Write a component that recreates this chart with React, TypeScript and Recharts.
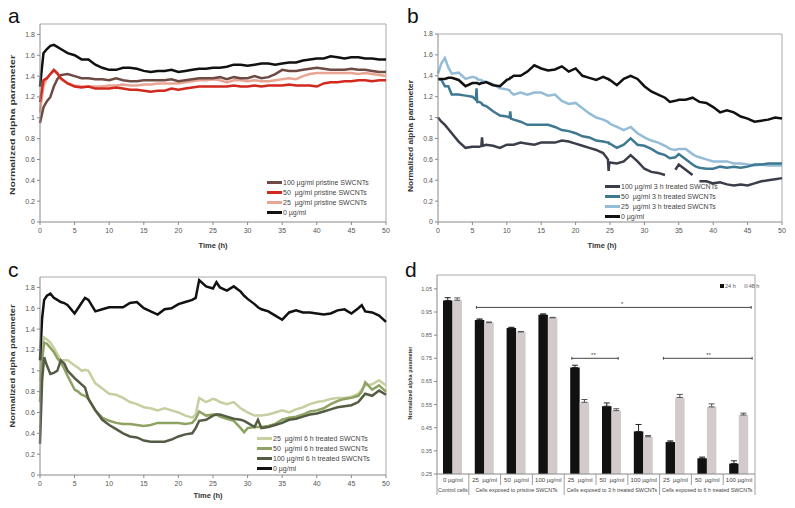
import React from 'react';
import { LineChart, Line, XAxis, YAxis, ReferenceLine, ReferenceDot, Legend, BarChart, Bar, ErrorBar } from 'recharts';

const FONT = '"Liberation Sans", Arial, sans-serif';

// ---------- Panel a ----------
const aTime = [0,0.5,1,1.5,2,2.5,3,4,5,6,7,8,9,10,11,12,13,14,15,16,17,18,19,20,21,22,23,24,25,26,27,28,29,30,31,32,33,34,35,36,37,38,39,40,41,42,43,44,45,46,47,48,49,50];
const a0 = [1.30,1.62,1.66,1.69,1.70,1.68,1.66, 1.62,1.60,1.56,1.56,1.51,1.48,1.46, 1.46,1.48,1.48,1.47,1.45,1.44,1.45,1.45,1.46,1.44, 1.45,1.46,1.47,1.47,1.48,1.48,1.49,1.51,1.51,1.50, 1.51,1.52,1.52,1.51,1.52,1.53,1.53,1.55,1.56,1.57, 1.57,1.59,1.58,1.57,1.58,1.58,1.57,1.57,1.56,1.56];
const a100 = [0.95,1.10,1.16,1.20,1.30,1.37,1.41, 1.42,1.40,1.38,1.38,1.37,1.37,1.36, 1.38,1.36,1.35,1.35,1.36,1.36,1.36,1.36,1.37,1.35, 1.36,1.37,1.38,1.38,1.38,1.39,1.37,1.39,1.38,1.38, 1.40,1.38,1.39,1.42,1.46,1.45,1.45,1.46,1.47,1.48, 1.47,1.46,1.46,1.46,1.47,1.46,1.46,1.45,1.44,1.44];
const a50 = [1.15,1.36,1.38,1.42,1.46,1.43,1.38, 1.33,1.30,1.29,1.30,1.28,1.28,1.28, 1.29,1.28,1.27,1.27,1.26,1.25,1.26,1.26,1.28,1.27, 1.28,1.29,1.30,1.30,1.30,1.30,1.30,1.31,1.30,1.30, 1.31,1.30,1.31,1.31,1.31,1.32,1.31,1.31,1.31,1.30, 1.33,1.34,1.34,1.35,1.35,1.36,1.36,1.35,1.36,1.36];
const a25 = [1.05,1.30,1.38,1.42,1.45,1.42,1.37, 1.33,1.31,1.30,1.30,1.30,1.30,1.31, 1.31,1.32,1.31,1.31,1.32,1.32,1.33,1.33,1.33,1.33, 1.34,1.35,1.36,1.36,1.37,1.36,1.34,1.36,1.36,1.35, 1.36,1.35,1.35,1.36,1.37,1.38,1.37,1.40,1.42,1.43, 1.43,1.43,1.43,1.43,1.43,1.42,1.43,1.42,1.41,1.40];
const aNames = ['100 µg/ml pristine SWCNTs', '50  µg/ml pristine SWCNTs', '25  µg/ml pristine SWCNTs', '0 µg/ml'];

// ---------- Panel b ----------
const bTime = [0,0.5,1,1.5,2, 3,4,5, 5.5,5.6,5.7, 6, 6.3,6.4,6.5, 7,8,9,10, 10.4,10.5,10.6, 11,12,13,14,15,16,17,18,19,20,21,22,23,24, 24.7,24.8,24.9, 25,26,27,28,29,30,31,32,33, 33.7, 34.5, 35,36,37, 37.5, 38,39,40,41,42,43,44,45,46,47,48,49,50];
const b0 = [1.37,1.37,1.37,1.38,1.38, 1.36,1.30,1.33, 1.33,1.33,1.33, 1.32, 1.33,1.33,1.33, 1.34,1.31,1.30,1.36, 1.37,1.38,1.38, 1.40,1.40,1.44,1.50,1.47,1.45,1.46,1.49,1.44,1.47,1.40,1.38,1.36,1.39, 1.37,1.37,1.36, 1.36,1.31,1.37,1.40,1.37,1.30,1.25,1.22,1.19, 1.15, 1.16, 1.17,1.17,1.19, 1.17, 1.15,1.14,1.10,1.05,1.07,1.05,1.01,0.99,0.96,0.97,0.98,1.00,0.99];
const b100 = [1.00,0.96,0.93,0.89,0.85, 0.77,0.71,0.72, 0.72,0.72,0.72, 0.72, 0.73,0.81,0.73, 0.74,0.73,0.71,0.74, 0.74,0.74,0.74, 0.74,0.76,0.75,0.74,0.76,0.76,0.76,0.78,0.77,0.75,0.73,0.71,0.69,0.66, 0.60,0.49,0.57, 0.57,0.56,0.58,0.64,0.58,0.51,0.48,0.47,0.45, null, 0.50, 0.55,0.50,0.45, null, 0.39,0.39,0.37,0.38,0.36,0.35,0.36,0.35,0.37,0.39,0.40,0.41,0.42];
const b50 = [1.37,1.36,1.30,1.30,1.22, 1.22,1.21,1.20, 1.17,1.28,1.15, 1.15, 1.14,1.13,1.12, 1.11,1.06,1.02,1.01, 1.00,1.06,0.99, 0.98,0.96,0.93,0.93,0.93,0.93,0.91,0.88,0.87,0.85,0.82,0.81,0.78,0.77, 0.76,0.76,0.75, 0.75,0.71,0.74,0.80,0.74,0.73,0.70,0.66,0.64, 0.61, 0.62, 0.65,0.60,0.55, 0.53, 0.52,0.51,0.51,0.53,0.52,0.53,0.52,0.53,0.55,0.55,0.56,0.56,0.56];
const b25 = [1.42,1.52,1.57,1.48,1.42, 1.43,1.37,1.39, 1.38,1.38,1.37, 1.36, 1.36,1.35,1.35, 1.34,1.32,1.28,1.27, 1.26,1.25,1.24, 1.22,1.24,1.22,1.24,1.24,1.21,1.22,1.16,1.13,1.14,1.09,1.04,1.00,0.98, 0.96,0.95,0.95, 0.94,0.91,0.88,0.91,0.85,0.81,0.78,0.76,0.73, 0.70, 0.69, 0.70,0.70,0.65, 0.63, 0.62,0.60,0.58,0.58,0.58,0.56,0.56,0.55,0.54,0.55,0.54,0.54,0.54];
const bNames = ['100 µg/ml 3 h treated SWCNTs', '50  µg/ml 3 h treated SWCNTs', '25  µg/ml 3 h treated SWCNTs', '0 µg/ml'];

// ---------- Panel c ----------
const cTime = [0,0.3,0.6,1,1.5,2,2.5,3,3.5,4, 5,5.5,6,6.5,7, 8,9,10,11,12,13,14,15,16,17,18,19,20,21,22, 22.5,23,24,25,25.5,26,27,28,29,29.5,30,31,31.5, 32,33,34,35,36,37,38,39,40,41,42,43,44,45,46, 46.5,47,48,49,50];
const c0 = [1.10,1.50,1.68,1.72,1.74,1.70,1.68,1.66,1.65,1.63, 1.55,1.60,1.65,1.70,1.68, 1.57,1.59,1.61,1.61,1.61,1.65,1.66,1.60,1.57,1.54,1.59,1.60,1.64,1.66,1.68, 1.70,1.87,1.81,1.79,1.85,1.80,1.77,1.81,1.76,1.72,1.69,1.64,1.61, 1.59,1.57,1.53,1.49,1.56,1.58,1.56,1.56,1.55,1.54,1.55,1.58,1.59,1.55,1.60, 1.63,1.57,1.56,1.53,1.47];
const c25 = [0.90,1.20,1.32,1.30,1.27,1.22,1.16,1.10,1.10,1.10, 1.05,1.03,1.00,1.01,1.00, 0.88,0.83,0.78,0.77,0.74,0.70,0.68,0.65,0.64,0.62,0.64,0.62,0.60,0.57,0.55, 0.58,0.74,0.70,0.73,0.72,0.70,0.68,0.70,0.64,0.62,0.60,0.57,0.57, 0.57,0.58,0.60,0.62,0.60,0.63,0.65,0.68,0.70,0.71,0.73,0.74,0.74,0.75,0.78, 0.82,0.86,0.87,0.91,0.86];
const c50 = [0.70,1.10,1.27,1.26,1.22,1.18,1.12,1.08,1.02,0.95, 0.82,0.80,0.77,0.76,0.73, 0.62,0.55,0.52,0.50,0.49,0.49,0.48,0.47,0.48,0.50,0.50,0.50,0.50,0.49,0.50, 0.54,0.61,0.57,0.58,0.58,0.56,0.54,0.52,0.45,0.41,0.45,0.46,0.46, 0.46,0.47,0.49,0.53,0.55,0.56,0.58,0.61,0.62,0.64,0.68,0.71,0.73,0.74,0.76, 0.80,0.89,0.82,0.86,0.80];
const c100 = [0.30,0.90,1.13,1.05,0.97,0.98,1.00,1.10,1.07,1.00, 0.93,0.90,0.87,0.84,0.73, 0.62,0.53,0.48,0.44,0.40,0.37,0.36,0.33,0.32,0.32,0.32,0.34,0.37,0.39,0.40, 0.45,0.52,0.53,0.57,0.58,0.58,0.56,0.54,0.53,0.52,0.50,0.46,0.53, 0.45,0.46,0.48,0.50,0.53,0.54,0.56,0.58,0.59,0.61,0.63,0.65,0.66,0.67,0.70, 0.74,0.78,0.76,0.81,0.77];
const cNames = ['25  µg/ml 6 h treated SWCNTs', '50  µg/ml 6 h treated SWCNTs', '100 µg/ml 6 h treated SWCNTs', '0 µg/ml'];

const xTicks = [0,5,10,15,20,25,30,35,40,45,50];
const yTicks18 = [0,0.2,0.4,0.6,0.8,1,1.2,1.4,1.6,1.8];

// ---------- Panel d ----------
const dCatLabels = ['0 µg/ml','25  µg/ml','50  µg/ml','100 µg/ml','25  µg/ml','50  µg/ml','100 µg/ml','25  µg/ml','50  µg/ml','100 µg/ml'];
const dGroupLabels = ['Control cells','Cells exposed to pristine SWCNTs','Cells exposed to 3 h treated SWCNTs','Cells exposed to 6 h treated SWCNTs'];
const dGroupSizes = [1,3,3,3];
const d24 = [1.000,0.916,0.881,0.938,0.710,0.543,0.434,0.388,0.318,0.295];
const d48 = [1.001,0.904,0.864,0.925,0.560,0.524,0.411,0.581,0.540,0.505];
const d24Err = [0.012,0.004,0.003,0.004,0.010,0.014,0.030,0.005,0.005,0.012];
const d48Err = [0.010,0.003,0.002,0.002,0.012,0.008,0.005,0.013,0.013,0.008];
const dTicks = [0.25,0.35,0.45,0.55,0.65,0.75,0.85,0.95,1.05];
const dNames = ['24 h','48 h'];
// significance brackets, in category-index units (0..10)
const sigFrom = [1.24,4.24,7.12];
const sigTo = [9.88,5.70,9.91];
const sigY = [0.97,0.75,0.75];
const sigLabelX = [5.82,4.92,8.54];
const sigLabel = ['*','**','**'];

const aData = aTime.map((t, i) => ({ t, s100: a100[i], s50: a50[i], s25: a25[i], s0: a0[i] }));
const bData = bTime.map((t, i) => ({ t, s100: b100[i], s50: b50[i], s25: b25[i], s0: b0[i] }));
const cData = cTime.map((t, i) => ({ t, s100: c100[i], s50: c50[i], s25: c25[i], s0: c0[i] }));
const dData = dCatLabels.map((lab, i) => ({ x: i + 0.5, lab, v24: d24[i], v48: d48[i], e24: [0, d24Err[i]], e48: [0, d48Err[i]] }));
const dXTicks = dData.map((d) => d.x);

function makeLegend(order: string[]) {
  return (props: any) => {
    const items = [...(props.payload || [])].sort((p: any, q: any) => order.indexOf(p.value) - order.indexOf(q.value));
    return (
      <div style={{ fontFamily: FONT, fontSize: 7, color: '#444' }}>
        {items.map((p: any) => (
          <div key={p.value} style={{ display: 'flex', alignItems: 'center', height: 10, whiteSpace: 'pre' }}>
            <span style={{ display: 'inline-block', width: 15, height: 3, background: p.color, marginRight: 1 }} />
            <span>{p.value}</span>
          </div>
        ))}
      </div>
    );
  };
}

const DLegend = (props: any) => {
  const items = [...(props.payload || [])].sort((p: any, q: any) => dNames.indexOf(p.value) - dNames.indexOf(q.value));
  return (
    <div style={{ display: 'flex', fontFamily: FONT, fontSize: 5.5, color: '#555', whiteSpace: 'pre' }}>
      {items.map((p: any) => (
        <div key={p.value} style={{ display: 'flex', alignItems: 'center', marginRight: 8 }}>
          <span style={{ display: 'inline-block', width: 4, height: 4, background: p.color, marginRight: 1 }} />
          <span>{p.value}</span>
        </div>
      ))}
    </div>
  );
};

type Series = { key: string; name: string; color: string };

function LinePanel(props: {
  left: number; top: number; width: number; height: number; data: any[]; series: Series[];
  yMax: number; margin: any; yWidth: number; xHeight: number; legendPos: [number, number]; names: string[];
}) {
  const { left, top, width, height, data, series, yMax, margin, yWidth, xHeight, legendPos, names } = props;
  const tickStyle = { fontSize: 7, fill: '#555', fontFamily: FONT };
  return (
    <div style={{ position: 'absolute', left, top }}>
      <LineChart width={width} height={height} data={data} margin={margin}>
        <XAxis dataKey="t" type="number" domain={[0, 50]} ticks={xTicks} interval={0} height={xHeight}
          tick={tickStyle} tickSize={3} tickMargin={3} stroke="#888" />
        <YAxis type="number" domain={[0, yMax]} ticks={yTicks18} interval={0} width={yWidth}
          tick={tickStyle} tickSize={3} tickMargin={2} stroke="#888" />
        <ReferenceLine y={yMax} stroke="#aaa" />
        <ReferenceLine x={50} stroke="#aaa" />
        {series.map((s) => (
          <Line key={s.key} dataKey={s.key} name={s.name} stroke={s.color} strokeWidth={2.5} dot={false}
            type="linear" isAnimationActive={false} connectNulls={false} />
        ))}
        <Legend layout="vertical" align="center" verticalAlign="middle"
          wrapperStyle={{ left: legendPos[0], top: legendPos[1], width: 'auto' }} content={makeLegend(names)} />
      </LineChart>
    </div>
  );
}

function DTick(props: any) {
  const { x, y, index } = props;
  const n = dCatLabels.length;
  const half = props.width ? props.width / n / 2 : 16;
  const left = x - half;
  const right = x + half;
  let start = 0;
  let gIdx = -1;
  let isEnd = false;
  for (let g = 0; g < dGroupSizes.length; g++) {
    if (index === start) gIdx = g;
    if (index === start + dGroupSizes[g] - 1) isEnd = true;
    start += dGroupSizes[g];
  }
  return (
    <g>
      <text x={x} y={y + 8} textAnchor="middle" fontSize={6} fill="#444" fontFamily={FONT} style={{ whiteSpace: 'pre' }}>
        {dCatLabels[index]}
      </text>
      {index === 0 && <line x1={left} x2={left} y1={y} y2={y + 21} stroke="#888" strokeWidth={0.8} />}
      <line x1={right} x2={right} y1={y} y2={isEnd ? y + 21 : y + 11} stroke="#888" strokeWidth={0.8} />
      {gIdx >= 0 && (
        <text x={left + half * dGroupSizes[gIdx]} y={y + 17.5} textAnchor="middle" fontSize={5.4} fill="#444" fontFamily={FONT}>
          {dGroupLabels[gIdx]}
        </text>
      )}
    </g>
  );
}

function BarPanel() {
  const tickStyle = { fontSize: 5.5, fill: '#555', fontFamily: FONT };
  return (
    <div style={{ position: 'absolute', left: 395, top: 250 }}>
      <BarChart width={400} height={258} data={dData} margin={{ top: 25, right: 40, left: 0, bottom: 0 }} barGap={0}>
        <XAxis dataKey="x" type="number" domain={[0, 10]} ticks={dXTicks} interval={0} height={34} tickLine={false}
          tickSize={0} tickMargin={0} stroke="#888" tick={(p: any) => <DTick {...p} />} />
        <YAxis type="number" domain={[0.25, 1.11]} ticks={dTicks} interval={0} width={42}
          tick={tickStyle} tickSize={3} tickMargin={2} stroke="#888" />
        <ReferenceLine y={1.11} stroke="#aaa" />
        <ReferenceLine x={10} stroke="#aaa" />
        <Bar dataKey="v24" name="24 h" fill="#111111" barSize={9.5} isAnimationActive={false}>
          <ErrorBar dataKey="e24" width={3} stroke="#222" strokeWidth={1} direction="y" />
        </Bar>
        <Bar dataKey="v48" name="48 h" fill="#d3cbcb" barSize={9.5} isAnimationActive={false}>
          <ErrorBar dataKey="e48" width={3} stroke="#555" strokeWidth={1} direction="y" />
        </Bar>
        {sigFrom.map((f, i) => (
          <ReferenceLine key={'s' + i} segment={[{ x: f, y: sigY[i] }, { x: sigTo[i], y: sigY[i] }]} stroke="#444" strokeWidth={1} ifOverflow="visible" />
        ))}
        {sigFrom.map((f, i) => (
          <ReferenceLine key={'l' + i} segment={[{ x: f, y: sigY[i] - 0.006 }, { x: f, y: sigY[i] + 0.006 }]} stroke="#444" strokeWidth={1} ifOverflow="visible" />
        ))}
        {sigTo.map((t, i) => (
          <ReferenceLine key={'r' + i} segment={[{ x: t, y: sigY[i] - 0.006 }, { x: t, y: sigY[i] + 0.006 }]} stroke="#444" strokeWidth={1} ifOverflow="visible" />
        ))}
        {sigLabelX.map((lx, i) => (
          <ReferenceDot key={'d' + i} x={lx} y={sigY[i]} r={0} fill="none" stroke="none" ifOverflow="visible"
            label={{ value: sigLabel[i], position: 'top', offset: 1, fontSize: 6, fill: '#444', fontFamily: FONT }} />
        ))}
        <Legend layout="vertical" align="center" verticalAlign="middle" wrapperStyle={{ left: 325, top: 33, width: 'auto' }} content={DLegend} />
      </BarChart>
    </div>
  );
}

const aSeries: Series[] = [
  { key: 's25', name: aNames[2], color: '#e9a594' },
  { key: 's100', name: aNames[0], color: '#6e4a45' },
  { key: 's50', name: aNames[1], color: '#d2281e' },
  { key: 's0', name: aNames[3], color: '#111111' },
];
const bSeries: Series[] = [
  { key: 's25', name: bNames[2], color: '#94bcd6' },
  { key: 's50', name: bNames[1], color: '#3e7891' },
  { key: 's100', name: bNames[0], color: '#3a3d4a' },
  { key: 's0', name: bNames[3], color: '#111111' },
];
const cSeries: Series[] = [
  { key: 's25', name: cNames[0], color: '#c5cfa0' },
  { key: 's50', name: cNames[1], color: '#8ea363' },
  { key: 's100', name: cNames[2], color: '#545c44' },
  { key: 's0', name: cNames[3], color: '#111111' },
];

function YTitle({ x, y, len, size }: { x: number; y: number; len: number; size: number }) {
  return (
    <text transform={`translate(${x},${y}) rotate(-90)`} textAnchor="middle" dominantBaseline="central"
      fontSize={size} fontWeight="bold" fill="#333" fontFamily={FONT} textLength={len} lengthAdjust="spacingAndGlyphs">
      Normalized alpha parameter
    </text>
  );
}

export default function App() {
  return (
    <div style={{ position: 'absolute', left: 0, top: 0, width: 795, height: 508, background: '#fff', overflow: 'hidden', fontFamily: FONT }}>
      <LinePanel left={0} top={0} width={395} height={250} data={aData} series={aSeries} yMax={1.9}
        margin={{ top: 24, right: 9, left: 0, bottom: 0 }} yWidth={40} xHeight={28} legendPos={[267, 177]} names={aNames} />
      <LinePanel left={395} top={0} width={400} height={250} data={bData} series={bSeries} yMax={1.8}
        margin={{ top: 34, right: 13, left: 0, bottom: 0 }} yWidth={43} xHeight={28} legendPos={[210, 181]} names={bNames} />
      <LinePanel left={0} top={250} width={395} height={258} data={cData} series={cSeries} yMax={1.9}
        margin={{ top: 27, right: 9, left: 0, bottom: 0 }} yWidth={40} xHeight={33} legendPos={[257, 183]} names={cNames} />
      <BarPanel />
      <svg width={795} height={508} style={{ position: 'absolute', left: 0, top: 0, pointerEvents: 'none' }}>
        <g fontFamily={FONT} fill="#111" fontSize={21}>
          <text x={8} y={23}>a</text>
          <text x={407} y={23}>b</text>
          <text x={8} y={277}>c</text>
          <text x={405} y={277}>d</text>
        </g>
        <YTitle x={12} y={125} len={140} size={7.5} />
        <YTitle x={410} y={136} len={112} size={7.5} />
        <YTitle x={12} y={366} len={123} size={7.5} />
        <YTitle x={410} y={383} len={73} size={5.5} />
        <g fontFamily={FONT} fontWeight="bold" fontSize={7.5} fill="#333" textAnchor="middle">
          <text x={213} y={248}>Time (h)</text>
          <text x={602} y={248}>Time (h)</text>
          <text x={208} y={498}>Time (h)</text>
        </g>
      </svg>
    </div>
  );
}
